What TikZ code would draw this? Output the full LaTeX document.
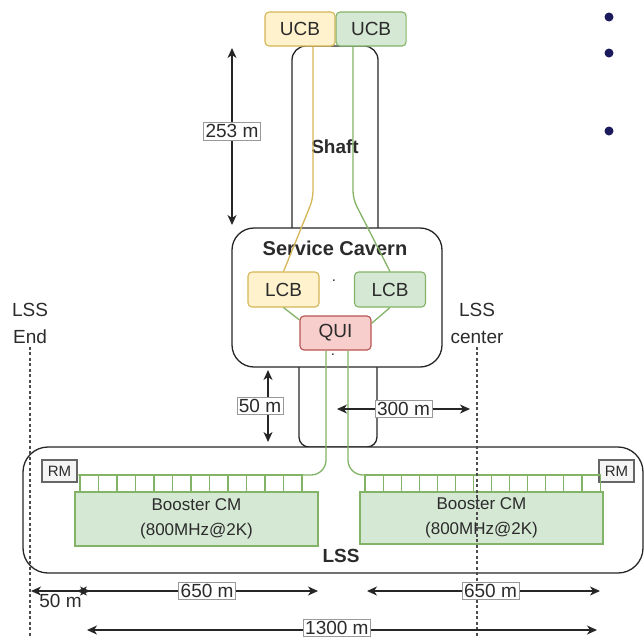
\documentclass[tikz,border=0pt]{standalone}
\usepackage{fontspec}
\setmainfont{Liberation Sans}
\usepackage{xcolor}
\definecolor{CbYellow}{HTML}{FFF2CC}
\definecolor{CbYellowLine}{HTML}{D6B656}
\definecolor{CbGreen}{HTML}{D5E8D4}
\definecolor{CbGreenLine}{HTML}{82B366}
\definecolor{CbRed}{HTML}{F8CECC}
\definecolor{CbRedLine}{HTML}{B85450}
\definecolor{CbGrey}{HTML}{F5F5F5}
\definecolor{CbGreyLine}{HTML}{666666}
\definecolor{CbInk}{HTML}{2B2B2B}
\definecolor{CbBullet}{HTML}{1A1A5C}
\usetikzlibrary{arrows.meta,positioning}

\begin{document}
\begin{tikzpicture}[
  x=1pt, y=-1pt,
  node distance=0pt,
  hull/.style={draw=black!85, line width=1.3pt, fill=white, inner sep=0pt},
  unit/.style={draw, line width=1.1pt, rounded corners=4pt, inner sep=0pt,
               minimum width=70pt, minimum height=34pt,
               font=\fontsize{19}{22}\selectfont, text=CbInk},
  title/.style={font=\fontsize{19}{22}\selectfont\bfseries, text=CbInk},
  plain/.style={font=\fontsize{19}{27}\selectfont, text=CbInk, align=center},
  tag/.style={draw=black!40, line width=0.6pt, fill=white, inner sep=2pt,
              font=\fontsize{19}{22}\selectfont, text=CbInk},
  dim/.style={{Stealth[length=10pt,width=9pt,inset=3pt]}-{Stealth[length=10pt,width=9pt,inset=3pt]},
              draw=black!85, line width=1.3pt},
  guide/.style={draw=black!70, line width=1.8pt, dash pattern=on 3pt off 2.5pt},
  feedY/.style={draw=CbYellowLine, line width=1.3pt, rounded corners=8pt},
  feedG/.style={draw=CbGreenLine, line width=1.3pt, rounded corners=8pt},
  cell/.style={draw=CbGreenLine, line width=1.1pt},
  module/.style={draw=CbGreenLine, fill=CbGreen, line width=1.1pt, align=center,
                 inner sep=0pt, minimum width=243pt,
                 font=\fontsize{17}{25}\selectfont, text=CbInk},
  rmbox/.style={draw=CbGreyLine, fill=CbGrey, line width=1.1pt, inner sep=0pt,
                minimum width=35pt, minimum height=22pt,
                font=\fontsize{15}{17}\selectfont, text=CbInk},
]
\useasboundingbox (0,0) rectangle (644,638);

\node[hull, rounded corners=14pt, minimum width=86pt, minimum height=199pt] (shaft) at (335,145.5) {};
\node[hull, rounded corners=10pt, minimum width=78pt, minimum height=107pt] (link) at (338,393.5) {};
\node[hull, rounded corners=22pt, minimum width=210pt, minimum height=139pt] (cavern) at (337,297.5) {};
\node[title] (shaftlbl) at (335,147) {Shaft};
\node[title, font=\fontsize{20}{22}\selectfont\bfseries] (cavernlbl) at (335,248) {Service Cavern};

\node[unit, fill=CbYellow, draw=CbYellowLine] (ucbY) at (300,29) {UCB};
\node[unit, fill=CbGreen, draw=CbGreenLine, right=of ucbY] (ucbG) {UCB};
\node[unit, fill=CbYellow, draw=CbYellowLine, minimum width=71pt, minimum height=35pt] (lcbY) at (283.5,289.5) {LCB};
\node[unit, fill=CbGreen, draw=CbGreenLine, minimum width=71pt, minimum height=35pt] (lcbG) at (390,289.5) {LCB};
\node[unit, fill=CbRed, draw=CbRedLine, minimum width=71pt] (qui) at (335.5,333) {QUI};
\node[anchor=base, font=\fontsize{15}{17}\selectfont, text=CbInk] (dotA) at (334,281) {.};
\node[anchor=base, font=\fontsize{15}{17}\selectfont, text=CbInk] (dotB) at (333,355) {.};

\node[hull, rounded corners=25pt, minimum width=620pt, minimum height=126pt] (lss) at (333,510) {};
\node[title] (lsslbl) at (341,556) {LSS};

\coordinate (bendY) at (313,199);
\coordinate (bendG) at (353,199);
\draw[feedY] (ucbY.south -| bendY) -- (bendY) -- (lcbY.north);
\draw[feedG] (ucbG.south -| bendG) -- (bendG) -- (lcbG.north);
\draw[feedG] (lcbY.south) -- (qui.160);
\draw[feedG] (lcbG.south) -- (qui.15);

\node[rmbox] (rmL) at (59.5,471) {RM};
\node[rmbox] (rmR) at (616.5,471) {RM};
\coordinate (tapL) at (326,475);
\coordinate (tapR) at (348,475);
\draw[feedG, rounded corners=15pt] (qui.south -| tapL) |- (rmL.east |- tapL);
\draw[feedG, rounded corners=15pt] (qui.south -| tapR) |- (rmR.west |- tapR);

\foreach \i in {0,...,11}
  \draw[cell] ({80+18.5*\i},475) rectangle ++(18.5,17);
\foreach \i in {0,...,12}
  \draw[cell] ({365+18.08*\i},475) rectangle ++(18.08,17);

\node[module, minimum height=54pt] (cmL) at (196.5,519) {Booster CM\\(800MHz@2K)};
\node[module, minimum height=52pt] (cmR) at (481.5,518) {Booster CM\\(800MHz@2K)};

\node[plain] (lssEnd) at (30,323) {LSS\\End};
\node[plain] (lssMid) at (477,323) {LSS\\center};
\coordinate (floor) at (0,638);
\draw[guide] (lssEnd.south) -- (lssEnd.south |- floor);
\draw[guide] (lssMid.south) -- (lssMid.south |- floor);

\coordinate (d253t) at (232,48);
\coordinate (d253b) at (232,225);
\draw[dim] (d253t) -- node[tag, pos=0.47] {253 m} (d253b);
\coordinate (d50t) at (268,370);
\coordinate (d50b) at (268,442);
\draw[dim] (d50t) -- node[tag, xshift=-8pt] {50 m} (d50b);
\coordinate (d300a) at (337,409);
\coordinate (d300b) at (470,409);
\draw[dim] (d300a) -- node[tag] {300 m} (d300b);

\coordinate (e0) at (31,591);
\coordinate (e1) at (90,591);
\draw[dim] (e0) -- node[below=2pt, inner sep=1pt, font=\fontsize{19}{22}\selectfont, text=CbInk] {50 m} (e1);
\coordinate (f0) at (77,591);
\coordinate (f1) at (318,591);
\draw[dim] (f0) -- node[tag, pos=0.54] {650 m} (f1);
\coordinate (g0) at (367,591);
\coordinate (g1) at (600,591);
\draw[dim] (g0) -- node[tag, pos=0.53] {650 m} (g1);
\coordinate (h0) at (87,630);
\coordinate (h1) at (597,630);
\draw[dim] (h0) -- node[tag, pos=0.49, inner sep=1.5pt, yshift=2pt] {1300 m} (h1);

\foreach \y in {17,53,131}
  \fill[CbBullet] (609,\y) circle (4.5pt);
\end{tikzpicture}
\end{document}
